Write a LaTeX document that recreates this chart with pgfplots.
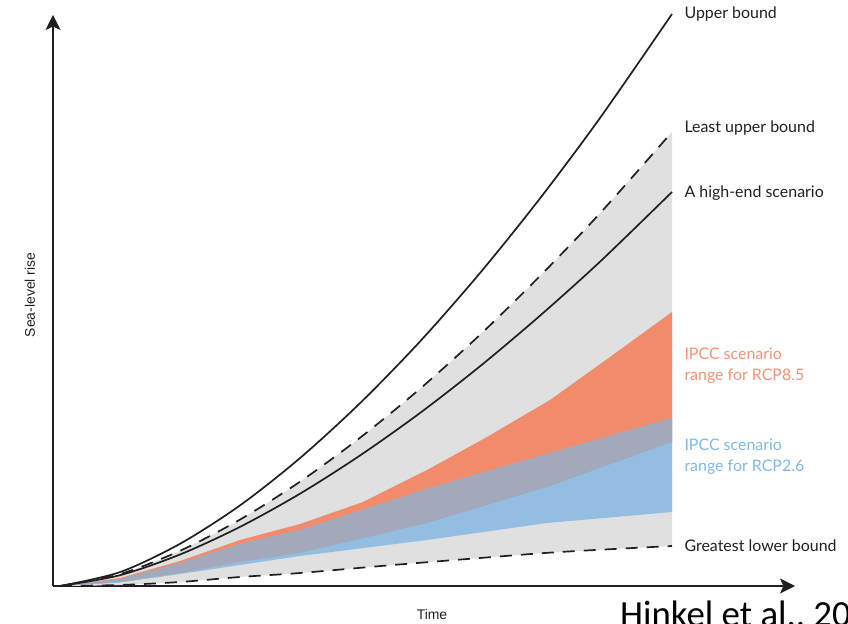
\documentclass[border=0pt]{standalone}
\usepackage{fontspec}
\setmainfont{Lato}
\newfontfamily\calfont{Carlito}
\newfontfamily\axfont{Liberation Sans}
\usepackage{pgfplots}
\pgfplotsset{compat=1.18}
\usepgfplotslibrary{fillbetween}
\usetikzlibrary{arrows.meta}

\definecolor{bandgrey}{RGB}{224,224,224}
\definecolor{rcpeight}{RGB}{242,139,108}
\definecolor{rcptwo}{RGB}{147,190,226}
\definecolor{overlap}{RGB}{163,168,186}
\definecolor{txtorange}{RGB}{244,146,116}
\definecolor{txtblue}{RGB}{128,184,230}
\definecolor{ink}{RGB}{35,31,32}

\begin{document}
\begin{tikzpicture}[x=1bp,y=1bp]
\path (0,0) rectangle (848,624);
\begin{axis}[
  at={(53,38)}, anchor=origin,
  x=1bp, y=1bp,
  xmin=0, xmax=742, ymin=0, ymax=571,
  axis lines=left,
  axis line style={ink, line width=1.8bp, -{Stealth[length=15bp,width=15bp,inset=3.5bp]}},
  xtick=\empty, ytick=\empty,
  clip=false,
]
% grey envelope between the two bounds
\addplot[draw=none, name path=lub, smooth] coordinates {
  (7,0) (67,11.9) (127,35.2) (187,66.4) (247,104.3) (307,148.2)
  (367,197.2) (427,251.2) (487,310) (547,372.7) (619,454)};
\addplot[draw=none, name path=glb, smooth] coordinates {
  (7,0) (67,1) (127,4) (187,9) (247,13) (340,21) (427,28) (507,34) (619,40)};
\addplot[bandgrey] fill between[of=lub and glb];

% IPCC ranges
\addplot[draw=none, name path=r85top] coordinates {
  (7,0) (67,8) (127,25) (187,46) (247,62) (310,84) (374,116) (434,149)
  (497,186) (557,229) (619,274)};
\addplot[draw=none, name path=ovtop] coordinates {
  (7,0) (67,7) (127,23) (187,42) (247,56) (370,96) (490,131) (619,168)};
\addplot[draw=none, name path=ovbot] coordinates {
  (7,0) (67,4) (127,13) (187,24) (247,33) (374,63) (494,99) (619,144)};
\addplot[draw=none, name path=r26bot] coordinates {
  (7,0) (67,3.5) (127,12) (187,21) (247,30) (374,46) (494,63) (619,74)};
\addplot[rcpeight] fill between[of=r85top and ovbot];
\addplot[rcptwo] fill between[of=ovtop and r26bot];
\addplot[overlap] fill between[of=ovtop and ovbot];

% bound and scenario curves
\addplot[ink, line width=1.7bp, smooth] coordinates {
  (7,0) (67,13.9) (127,42.2) (187,80.6) (247,127.9) (307,182.8)
  (367,244.5) (427,313) (487,387.6) (547,468) (619,572)};
\addplot[ink, line width=1.7bp, smooth, dash pattern=on 12bp off 9bp] coordinates {
  (7,0) (67,11.9) (127,35.2) (187,66.4) (247,104.3) (307,148.2)
  (367,197.2) (427,251.2) (487,310) (547,372.7) (619,454)};
\addplot[ink, line width=1.7bp, smooth] coordinates {
  (7,0) (67,10.8) (127,31.5) (187,59.1) (247,92.3) (307,130.5)
  (367,173) (427,219.7) (487,270.3) (547,324.3) (619,394)};
\addplot[ink, line width=1.7bp, smooth, dash pattern=on 12bp off 9bp] coordinates {
  (7,0) (67,1) (127,4) (187,9) (247,13) (340,21) (427,28) (507,34) (619,40)};

% labels
\begin{scope}[font=\fontsize{16}{21}\selectfont, text=ink]
\node[anchor=west] at (axis cs:628,572) {Upper bound};
\node[anchor=west] at (axis cs:628,458) {Least upper bound};
\node[anchor=west] at (axis cs:628,393) {A high-end scenario};
\node[anchor=west, text=txtorange, align=left] at (axis cs:628,220) {IPCC scenario\\range for RCP8.5};
\node[anchor=west, text=txtblue, align=left] at (axis cs:628,129) {IPCC scenario\\range for RCP2.6};
\node[anchor=west] at (axis cs:628,40) {Greatest lower bound};
\end{scope}
\node[rotate=90, font=\axfont\fontsize{14}{16}\selectfont, text=ink] at (axis cs:-23,291) {Sea-level rise};
\node[font=\axfont\fontsize{14}{16}\selectfont, text=ink] at (axis cs:379,-29) {Time};
\end{axis}
\pgfinterruptboundingbox
\node[anchor=base west, font=\calfont\fontsize{37}{40}\selectfont, inner sep=0pt] at (620,-3) {Hinkel et al., 2015};
\endpgfinterruptboundingbox
\end{tikzpicture}
\end{document}
